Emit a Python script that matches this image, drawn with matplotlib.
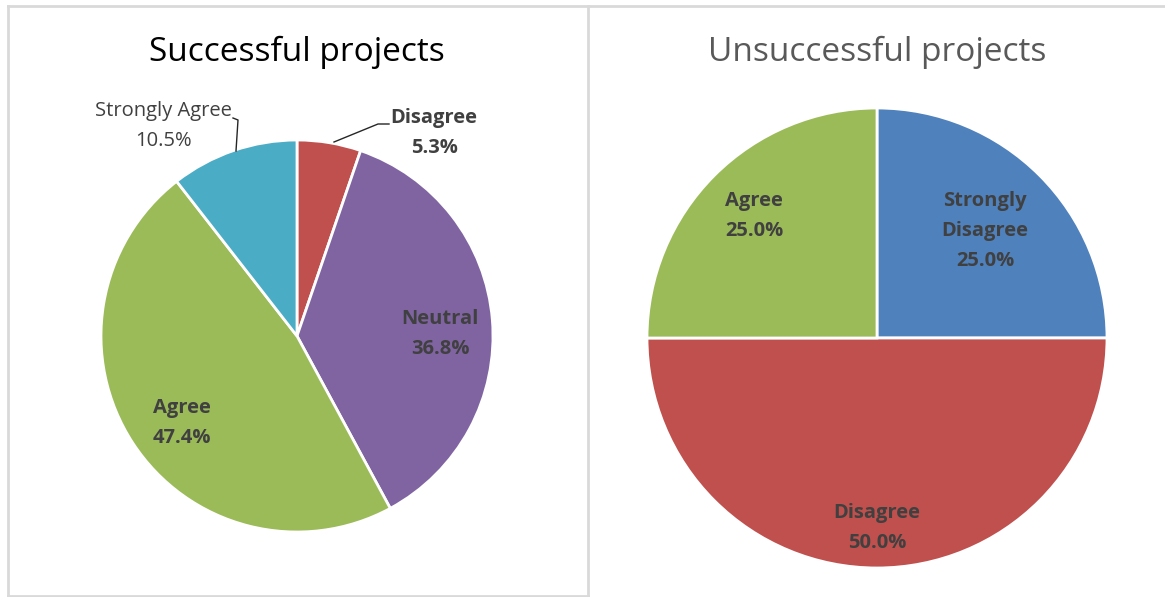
import matplotlib
matplotlib.use("Agg")
import matplotlib.pyplot as plt
from matplotlib.lines import Line2D

plt.rcParams['font.family'] = ['Open Sans', 'DejaVu Sans']

# Survey answers, successful projects (counts of respondents)
succ_labels = ["Disagree", "Neutral", "Agree", "Strongly Agree"]
succ_counts = [1, 7, 9, 2]
succ_colors = ["#C0504D", "#8064A2", "#9BBB59", "#4BACC6"]

# Survey answers, unsuccessful projects
fail_labels = ["Strongly Disagree", "Disagree", "Agree"]
fail_counts = [1, 2, 1]
fail_colors = ["#4F81BD", "#C0504D", "#9BBB59"]

W, H = 1165, 597
fig = plt.figure(figsize=(W / 100, H / 100), dpi=100)
ax = fig.add_axes([0, 0, 1, 1])


def Y(y):
    # top-down pixel row -> axes data y
    return H - y


def pct_text(name, counts, i, wrap=False):
    p = 100.0 * counts[i] / sum(counts)
    n = name.replace(" ", "\n") if wrap else name
    return f"{n}\n{p:.1f}%"


wedge_props = dict(edgecolor="white", linewidth=2)

ax.pie(succ_counts, colors=succ_colors, startangle=90, counterclock=False,
       center=(297, Y(336)), radius=196, wedgeprops=wedge_props)
ax.pie(fail_counts, colors=fail_colors, startangle=90, counterclock=False,
       center=(877, Y(338)), radius=230, wedgeprops=wedge_props)

ax.set_xlim(0, W)
ax.set_ylim(0, H)
ax.set_aspect("equal")
ax.axis("off")

# Panel frames
frame_c = "#D9D9D9"
for xs, ys in [((7.5, 7.5), (6, 596)), ((588, 588), (6, 596)),
               ((7.5, W), (6, 6)), ((7.5, 588), (596, 596))]:
    ax.add_line(Line2D(xs, [Y(v) for v in ys], color=frame_c, lw=2))

# Titles
ax.text(297, Y(52), "Successful projects", ha="center", va="center",
        fontsize=24, color="#000000")
ax.text(877, Y(52), "Unsuccessful projects", ha="center", va="center",
        fontsize=24, color="#595959")

lab = dict(ha="center", va="center", fontsize=14.5, color="#404040",
           linespacing=1.65)
bold = dict(lab, fontweight="bold")

# Successful projects labels
ax.text(434, Y(133), pct_text(succ_labels[0], succ_counts, 0), **bold)
ax.text(440, Y(334), pct_text(succ_labels[1], succ_counts, 1), **bold)
ax.text(182, Y(423), pct_text(succ_labels[2], succ_counts, 2), **bold)
ax.text(163, Y(126), pct_text(succ_labels[3], succ_counts, 3), **lab)

# Leader lines for the outside labels
lead_c = "#262626"
ax.add_line(Line2D([334, 378, 389], [Y(142), Y(124), Y(124)], color=lead_c, lw=1))
ax.add_line(Line2D([233, 238, 236], [Y(118), Y(120), Y(151)], color=lead_c, lw=1))

# Unsuccessful projects labels
ax.text(985, Y(231), pct_text(fail_labels[0], fail_counts, 0, wrap=True), **bold)
ax.text(877, Y(528), pct_text(fail_labels[1], fail_counts, 1), **bold)
ax.text(754, Y(216), pct_text(fail_labels[2], fail_counts, 2), **bold)

fig.savefig("out.png", dpi=100, facecolor="white")
